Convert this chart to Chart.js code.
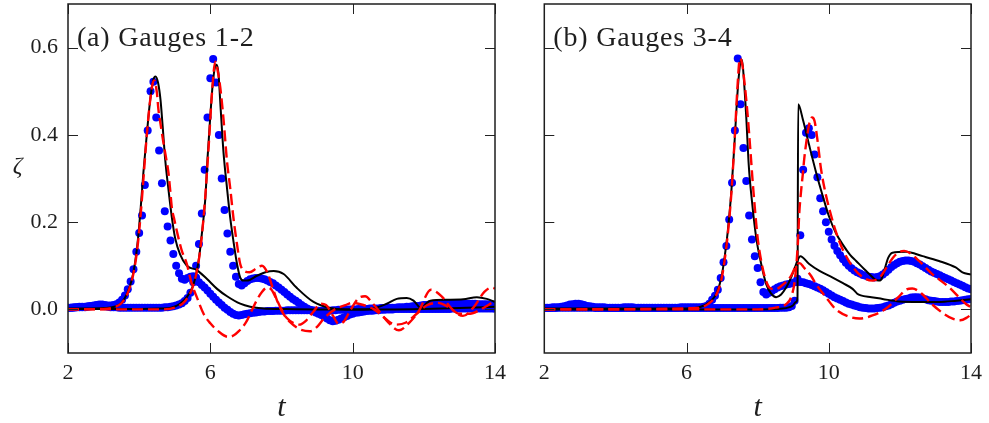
<!DOCTYPE html>
<html><head><meta charset="utf-8">
<script src="https://cdn.jsdelivr.net/npm/chart.js@4.4.1/dist/chart.umd.min.js"></script>
<style>
html,body{margin:0;padding:0;background:#fff;width:989px;height:423px;overflow:hidden;}
canvas{position:absolute;top:0;}
#ca{left:0;} #cb{left:500px;}
</style></head><body>
<canvas id="ca" width="520" height="423"></canvas>
<canvas id="cb" width="489" height="423"></canvas>
<script>
// ---------- axes ----------
const X_TICKS = [2, 6, 10, 14];
const Y_TICKS = [0, 0.2, 0.4, 0.6];
const PANEL_TITLES = ['(a) Gauges 1-2', '(b) Gauges 3-4'];

// ---------- experiment (blue dots), common sampling times ----------
const T_EXP = [
2.00,2.08,2.16,2.24,2.32,2.40,2.48,2.56,2.64,2.72,
2.80,2.88,2.96,3.04,3.12,3.20,3.28,3.36,3.44,3.52,
3.60,3.68,3.76,3.84,3.92,4.00,4.08,4.16,4.24,4.32,
4.40,4.48,4.56,4.64,4.72,4.80,4.88,4.96,5.04,5.12,
5.20,5.28,5.36,5.44,5.52,5.60,5.68,5.76,5.84,5.92,
6.00,6.08,6.16,6.24,6.32,6.40,6.48,6.56,6.64,6.72,
6.80,6.88,6.96,7.04,7.12,7.20,7.28,7.36,7.44,7.52,
7.60,7.68,7.76,7.84,7.92,8.00,8.08,8.16,8.24,8.32,
8.40,8.48,8.56,8.64,8.72,8.80,8.88,8.96,9.04,9.12,
9.20,9.28,9.36,9.44,9.52,9.60,9.68,9.76,9.84,9.92,
10.00,10.08,10.16,10.24,10.32,10.40,10.48,10.56,10.64,10.72,
10.80,10.88,10.96,11.04,11.12,11.20,11.28,11.36,11.44,11.52,
11.60,11.68,11.76,11.84,11.92,12.00,12.08,12.16,12.24,12.32,
12.40,12.48,12.56,12.64,12.72,12.80,12.88,12.96,13.04,13.12,
13.20,13.28,13.36,13.44,13.52,13.60,13.68,13.76,13.84,13.92,
14.00];

const EXP_G1 = [
0.004,0.004,0.004,0.005,0.005,0.005,0.005,0.006,0.007,0.009,
0.010,0.011,0.011,0.010,0.009,0.009,0.010,0.012,0.016,0.022,
0.032,0.046,0.064,0.092,0.132,0.175,0.215,0.285,0.410,0.500,
0.522,0.440,0.364,0.289,0.225,0.190,0.158,0.127,0.100,0.083,
0.070,0.068,0.072,0.075,0.076,0.073,0.062,0.056,0.050,0.043,
0.036,0.029,0.022,0.016,0.010,0.004,-0.001,-0.006,-0.010,-0.013,
-0.014,-0.013,-0.011,-0.010,-0.009,-0.008,-0.007,-0.006,-0.005,-0.005,
-0.004,-0.004,-0.004,-0.003,-0.003,-0.003,-0.003,-0.002,-0.002,-0.002,
-0.002,-0.002,-0.002,-0.002,-0.002,-0.002,-0.002,-0.003,-0.003,-0.003,
-0.003,-0.003,-0.003,-0.002,-0.002,-0.001,-0.001,0.000,0.000,0.000,
0.000,0.000,0.001,0.001,0.001,0.001,0.002,0.002,0.002,0.002,
0.003,0.003,0.003,0.004,0.004,0.004,0.005,0.005,0.005,0.006,
0.006,0.007,0.008,0.008,0.009,0.010,0.010,0.011,0.011,0.012,
0.012,0.012,0.013,0.013,0.013,0.013,0.013,0.013,0.013,0.013,
0.013,0.013,0.013,0.013,0.012,0.012,0.012,0.012,0.011,0.011,
0.011];

const EXP_G2 = [
0.004,0.004,0.005,0.005,0.006,0.006,0.006,0.007,0.008,0.008,
0.009,0.009,0.008,0.007,0.006,0.005,0.005,0.005,0.004,0.004,
0.004,0.004,0.004,0.004,0.004,0.004,0.004,0.004,0.004,0.004,
0.004,0.004,0.004,0.004,0.005,0.005,0.006,0.007,0.009,0.011,
0.014,0.019,0.026,0.038,0.062,0.100,0.150,0.220,0.320,0.440,
0.530,0.574,0.520,0.400,0.300,0.228,0.174,0.132,0.100,0.075,
0.058,0.055,0.060,0.065,0.069,0.071,0.072,0.072,0.071,0.069,
0.066,0.063,0.060,0.055,0.050,0.045,0.040,0.034,0.029,0.024,
0.020,0.015,0.010,0.006,0.002,-0.001,-0.004,-0.007,-0.010,-0.013,
-0.017,-0.021,-0.025,-0.027,-0.026,-0.024,-0.021,-0.018,-0.015,-0.012,
-0.010,-0.008,-0.007,-0.006,-0.005,-0.004,-0.003,-0.003,-0.002,-0.002,
-0.001,-0.001,0.000,0.000,0.000,0.001,0.001,0.001,0.001,0.001,
0.001,0.001,0.001,0.001,0.001,0.001,0.001,0.001,0.001,0.001,
0.001,0.001,0.001,0.001,0.001,0.002,0.002,0.002,0.002,0.002,
0.002,0.002,0.002,0.002,0.002,0.002,0.002,0.002,0.002,0.002,
0.002];

const EXP_G3 = [
0.004,0.004,0.004,0.005,0.005,0.005,0.006,0.007,0.009,0.011,
0.012,0.013,0.013,0.012,0.010,0.008,0.007,0.006,0.005,0.005,
0.005,0.005,0.004,0.004,0.004,0.004,0.004,0.004,0.005,0.005,
0.005,0.005,0.004,0.004,0.004,0.004,0.004,0.004,0.004,0.004,
0.004,0.004,0.004,0.004,0.004,0.004,0.004,0.004,0.005,0.005,
0.005,0.005,0.005,0.005,0.005,0.005,0.006,0.008,0.013,0.022,
0.031,0.045,0.072,0.108,0.145,0.206,0.290,0.410,0.575,0.470,
0.370,0.294,0.215,0.160,0.122,0.095,0.062,0.040,0.034,0.038,
0.042,0.046,0.050,0.053,0.055,0.057,0.058,0.060,0.062,0.063,
0.063,0.062,0.060,0.058,0.056,0.053,0.050,0.047,0.044,0.040,
0.036,0.032,0.028,0.025,0.022,0.019,0.016,0.013,0.011,0.009,
0.007,0.005,0.004,0.003,0.002,0.002,0.002,0.003,0.004,0.005,
0.007,0.009,0.012,0.015,0.018,0.020,0.022,0.024,0.025,0.027,
0.028,0.028,0.027,0.025,0.023,0.021,0.020,0.019,0.018,0.017,
0.017,0.017,0.017,0.018,0.018,0.019,0.020,0.021,0.022,0.023,
0.024];

const EXP_G4 = [
0.003,0.003,0.003,0.003,0.003,0.004,0.004,0.004,0.004,0.004,
0.004,0.004,0.004,0.004,0.004,0.004,0.004,0.004,0.003,0.003,
0.003,0.003,0.003,0.003,0.003,0.003,0.003,0.003,0.003,0.003,
0.003,0.003,0.003,0.003,0.003,0.003,0.003,0.003,0.003,0.003,
0.003,0.003,0.003,0.003,0.003,0.003,0.003,0.003,0.003,0.003,
0.003,0.003,0.003,0.003,0.003,0.003,0.003,0.003,0.003,0.003,
0.003,0.003,0.003,0.003,0.003,0.003,0.003,0.003,0.003,0.003,
0.003,0.003,0.003,0.003,0.003,0.003,0.003,0.003,0.003,0.003,
0.003,0.003,0.003,0.004,0.004,0.004,0.005,0.008,0.020,0.070,
0.170,0.320,0.405,0.415,0.400,0.355,0.303,0.255,0.225,0.200,
0.178,0.160,0.146,0.134,0.124,0.115,0.107,0.100,0.094,0.089,
0.085,0.082,0.079,0.077,0.075,0.074,0.073,0.074,0.076,0.080,
0.085,0.091,0.097,0.102,0.106,0.109,0.111,0.112,0.112,0.111,
0.109,0.106,0.103,0.099,0.095,0.091,0.087,0.084,0.081,0.078,
0.075,0.072,0.069,0.066,0.063,0.060,0.057,0.054,0.051,0.048,
0.046];

// ---------- model A (black solid) ----------
const BLACK_G1_T = [2.0,2.5,3.0,3.3,3.5,3.66,3.80,3.89,3.97,4.05,4.12,4.22,4.31,4.40,4.46,4.53,4.60,4.66,4.73,4.83,4.92,5.01,5.15,5.34,5.62,5.90,6.19,6.47,6.84,7.12,7.5,8.0,9.0,10.0,11.0,12.0,13.0,14.0];
const BLACK_G1_Z = [0.002,0.002,0.003,0.006,0.015,0.036,0.07,0.11,0.164,0.24,0.315,0.406,0.48,0.527,0.534,0.52,0.48,0.42,0.345,0.27,0.21,0.164,0.126,0.1,0.09,0.07,0.047,0.03,0.013,0.006,0.002,0.001,0.0,0.0,0.0,0.001,0.003,0.006];
const BLACK_G2_T = [2.0,4.0,4.6,4.9,5.15,5.34,5.53,5.67,5.76,5.86,5.92,6.0,6.07,6.13,6.18,6.23,6.28,6.37,6.47,6.56,6.65,6.75,6.84,6.93,7.03,7.31,7.55,7.78,8.06,8.42,8.9,9.37,9.8,10.3,10.58,10.96,11.24,11.52,11.71,11.94,12.05,12.18,12.65,13.11,13.49,13.77,14.0];
const BLACK_G2_Z = [0.001,0.001,0.002,0.004,0.013,0.028,0.058,0.111,0.172,0.255,0.345,0.444,0.519,0.555,0.561,0.54,0.474,0.36,0.277,0.209,0.156,0.104,0.073,0.066,0.066,0.077,0.085,0.088,0.081,0.05,0.017,0.003,0.0,0.0,0.002,0.013,0.024,0.026,0.02,0.002,0.012,0.02,0.022,0.023,0.028,0.024,0.017];
const BLACK_G3_T = [2.0,6.0,6.4,6.65,6.84,6.98,7.07,7.16,7.26,7.35,7.44,7.52,7.56,7.61,7.68,7.75,7.85,7.96,8.10,8.24,8.38,8.52,8.66,8.80,8.94,9.04,9.12,9.20,9.45,9.74,10.11,10.40,10.67,10.80,10.90,11.20,11.51,11.98,12.50,13.10,13.60,14.0];
const BLACK_G3_Z = [0.002,0.002,0.006,0.017,0.036,0.073,0.119,0.179,0.27,0.383,0.504,0.568,0.572,0.53,0.44,0.33,0.24,0.164,0.104,0.058,0.036,0.028,0.034,0.05,0.073,0.094,0.112,0.122,0.104,0.088,0.073,0.06,0.047,0.036,0.032,0.028,0.024,0.018,0.017,0.017,0.02,0.023];
const BLACK_G4_T = [2.0,8.0,8.7,8.99,9.08,9.12,9.14,9.27,9.45,9.64,9.83,10.02,10.2,10.39,10.6,10.77,11.0,11.14,11.28,11.4,11.47,11.53,11.6,11.67,11.79,12.17,12.64,13.1,13.57,13.76,14.0];
const BLACK_G4_Z = [0.0,0.0,0.002,0.009,0.017,0.025,0.47,0.436,0.376,0.315,0.26,0.21,0.175,0.149,0.125,0.111,0.092,0.081,0.07,0.066,0.068,0.08,0.1,0.118,0.13,0.132,0.122,0.111,0.096,0.085,0.08];

// ---------- model B (red dashed) ----------
const RED_G1_T = [2.0,3.0,3.3,3.5,3.65,3.78,3.88,3.97,4.05,4.13,4.22,4.31,4.38,4.43,4.50,4.54,4.61,4.68,4.75,4.82,4.87,4.92,4.99,5.06,5.13,5.20,5.34,5.41,5.48,5.62,5.81,6.0,6.25,6.5,6.65,6.8,7.0,7.15,7.3,7.45,7.6,7.72,7.85,8.0,8.15,8.35,8.5,8.7,8.9,9.1,9.25,9.45,9.6,9.75,9.95,10.2,10.35,10.55,10.8,11.0,11.3,11.6,11.85,12.2,12.5,12.8,13.1,13.4,13.7,13.9,14.0];
const RED_G1_Z = [0.0,0.001,0.005,0.014,0.032,0.062,0.1,0.155,0.225,0.31,0.405,0.48,0.518,0.525,0.495,0.459,0.42,0.383,0.35,0.315,0.275,0.232,0.205,0.179,0.155,0.134,0.104,0.08,0.058,0.028,-0.01,-0.032,-0.052,-0.063,-0.06,-0.05,-0.03,-0.005,0.02,0.04,0.05,0.045,0.025,0.0,-0.02,-0.032,-0.035,-0.025,-0.005,0.013,0.01,-0.015,-0.033,-0.028,0.0,0.028,0.03,0.015,-0.01,-0.03,-0.048,-0.03,-0.005,0.045,0.03,0.0,-0.015,0.005,0.04,0.05,0.048];
const RED_G2_T = [2.0,4.6,5.0,5.3,5.5,5.65,5.75,5.85,5.95,6.05,6.14,6.2,6.28,6.37,6.47,6.56,6.65,6.75,6.84,6.95,7.1,7.3,7.45,7.6,7.75,7.9,8.05,8.25,8.5,8.8,9.0,9.2,9.5,9.8,10.0,10.3,10.6,10.9,11.2,11.5,11.8,12.1,12.4,12.7,13.0,13.3,13.6,14.0];
const RED_G2_Z = [0.0,0.0,0.004,0.02,0.05,0.1,0.16,0.25,0.37,0.5,0.568,0.55,0.508,0.436,0.338,0.277,0.209,0.149,0.104,0.088,0.085,0.094,0.1,0.085,0.05,0.015,-0.01,-0.03,-0.045,-0.05,-0.04,-0.02,0.0,0.01,0.015,0.01,0.0,-0.02,-0.035,-0.03,-0.01,0.01,0.015,0.005,-0.01,-0.01,0.0,0.02];
const RED_G3_T = [2.0,6.3,6.6,6.84,6.98,7.07,7.16,7.26,7.35,7.44,7.50,7.56,7.63,7.72,7.80,7.86,7.93,8.0,8.1,8.2,8.33,8.5,8.7,8.94,9.08,9.18,9.3,9.5,9.64,9.92,10.2,10.58,10.86,11.23,11.61,11.98,12.17,12.35,12.6,12.9,13.2,13.5,13.7,13.9,14.0];
const RED_G3_Z = [0.0,0.003,0.012,0.034,0.068,0.112,0.172,0.265,0.385,0.52,0.575,0.565,0.52,0.444,0.36,0.293,0.224,0.164,0.111,0.075,0.05,0.046,0.056,0.077,0.1,0.106,0.096,0.077,0.058,0.028,0.0,-0.017,-0.021,-0.014,0.002,0.03,0.045,0.048,0.037,0.012,-0.008,-0.022,-0.025,-0.018,-0.012];
const RED_G4_T = [2.0,8.0,8.5,8.8,8.95,9.05,9.13,9.17,9.22,9.27,9.31,9.38,9.45,9.53,9.6,9.69,9.78,9.92,10.06,10.2,10.39,10.67,10.95,11.23,11.45,11.61,11.8,11.98,12.12,12.3,12.54,12.91,13.38,13.85,14.0];
const RED_G4_Z = [0.0,0.0,0.004,0.012,0.03,0.07,0.15,0.22,0.27,0.31,0.345,0.39,0.425,0.44,0.432,0.383,0.323,0.262,0.217,0.178,0.138,0.098,0.074,0.066,0.075,0.094,0.118,0.131,0.134,0.128,0.111,0.081,0.051,0.013,0.005];

// ---------- helpers ----------
const SERIF = "'Liberation Serif', 'Times New Roman', serif";
function pairs(ts, zs) { return ts.map((t, i) => ({ x: t, y: zs[i] })); }
function expSet(label, zs) {
  return { label, data: pairs(T_EXP, zs), showLine: false, pointRadius: 4, pointHoverRadius: 4,
    pointBackgroundColor: '#0000ff', pointBorderWidth: 0, pointBorderColor: '#0000ff', clip: 0, order: 3 };
}
function blackSet(label, ts, zs) {
  return { label, data: pairs(ts, zs), showLine: true, pointRadius: 0, borderColor: '#000000',
    borderWidth: 2, cubicInterpolationMode: 'monotone', clip: 0, order: 2 };
}
function redSet(label, ts, zs) {
  return { label, data: pairs(ts, zs), showLine: true, pointRadius: 0, borderColor: '#ff0000',
    borderWidth: 2.4, borderDash: [11, 5], cubicInterpolationMode: 'monotone', clip: 0, order: 1 };
}

function decor(title, showZeta) {
  return {
    id: 'decor',
    afterDraw(chart) {
      const { ctx, chartArea: a, scales: { x, y } } = chart;
      ctx.save();
      ctx.strokeStyle = '#222';
      ctx.lineWidth = 1;
      ctx.beginPath();
      X_TICKS.forEach(v => {
        const px = Math.round(x.getPixelForValue(v)) + 0.5;
        ctx.moveTo(px, a.bottom); ctx.lineTo(px, a.bottom - 10);
        ctx.moveTo(px, a.top); ctx.lineTo(px, a.top + 10);
      });
      Y_TICKS.forEach(v => {
        const py = Math.round(y.getPixelForValue(v)) + 0.5;
        ctx.moveTo(a.left, py); ctx.lineTo(a.left + 10, py);
        ctx.moveTo(a.right, py); ctx.lineTo(a.right - 10, py);
      });
      ctx.stroke();
      ctx.lineWidth = 1.5;
      ctx.strokeStyle = '#1e1e1e';
      ctx.strokeRect(a.left, a.top, a.right - a.left, a.bottom - a.top);
      ctx.fillStyle = '#1e1e1e';
      ctx.font = '28px ' + SERIF;
      try { ctx.letterSpacing = '0.8px'; } catch (e) {}
      ctx.textAlign = 'left'; ctx.textBaseline = 'alphabetic';
      ctx.fillText(title, a.left + 9, 45.5);
      try { ctx.letterSpacing = '0px'; } catch (e) {}
      ctx.font = 'italic 30px ' + SERIF;
      ctx.textAlign = 'center';
      ctx.fillText('t', (a.left + a.right) / 2, 416);
      if (showZeta) {
        ctx.font = 'italic 24px ' + SERIF;
        ctx.fillText('ζ', 17.5, 173);
      }
      ctx.restore();
    }
  };
}

function makePanel(id, title, datasets, showYLabels, yAxisWidth, padRight, showZeta) {
  return new Chart(document.getElementById(id), {
    type: 'scatter',
    data: { datasets },
    options: {
      responsive: false, animation: false, devicePixelRatio: 1,
      layout: { padding: { left: 0, right: padRight, top: 1, bottom: 0 } },
      plugins: { legend: { display: false }, tooltip: { enabled: false }, title: { display: false } },
      scales: {
        x: {
          type: 'linear', min: 2, max: 14,
          grid: { display: false, drawTicks: false }, border: { display: false },
          afterBuildTicks: s => { s.ticks = X_TICKS.map(v => ({ value: v })); },
          afterFit: s => { s.height = 70; },
          ticks: { padding: 7, color: '#1e1e1e', autoSkip: false, maxRotation: 0,
            font: { family: SERIF, size: 22 }, callback: v => String(v) }
        },
        y: {
          type: 'linear', min: -0.1, max: 0.7,
          grid: { display: false, drawTicks: false }, border: { display: false },
          afterBuildTicks: s => { s.ticks = Y_TICKS.map(v => ({ value: v })); },
          afterFit: s => { s.width = yAxisWidth; s.paddingTop = 0; s.paddingBottom = 0; },
          ticks: { display: showYLabels, padding: 10, color: '#1e1e1e',
            font: { family: SERIF, size: 22, lineHeight: 0.05 }, callback: v => Number(v).toFixed(1) }
        }
      }
    },
    plugins: [decor(title, showZeta)]
  });
}

makePanel('ca', PANEL_TITLES[0], [
  redSet('Gauge 1 model (dashed)', RED_G1_T, RED_G1_Z),
  redSet('Gauge 2 model (dashed)', RED_G2_T, RED_G2_Z),
  blackSet('Gauge 1 model (solid)', BLACK_G1_T, BLACK_G1_Z),
  blackSet('Gauge 2 model (solid)', BLACK_G2_T, BLACK_G2_Z),
  expSet('Gauge 1 experiment', EXP_G1),
  expSet('Gauge 2 experiment', EXP_G2)
], true, 68, 25, true);

makePanel('cb', PANEL_TITLES[1], [
  redSet('Gauge 3 model (dashed)', RED_G3_T, RED_G3_Z),
  redSet('Gauge 4 model (dashed)', RED_G4_T, RED_G4_Z),
  blackSet('Gauge 3 model (solid)', BLACK_G3_T, BLACK_G3_Z),
  blackSet('Gauge 4 model (solid)', BLACK_G4_T, BLACK_G4_Z),
  expSet('Gauge 3 experiment', EXP_G3),
  expSet('Gauge 4 experiment', EXP_G4)
], false, 44.3, 17, false);
</script>
</body></html>
